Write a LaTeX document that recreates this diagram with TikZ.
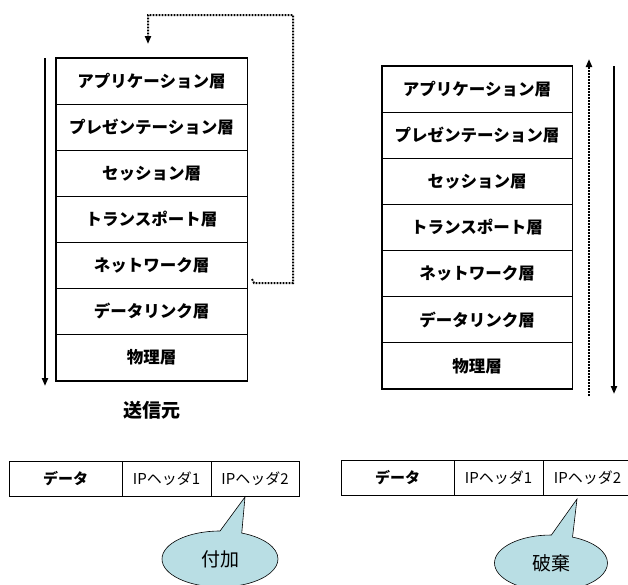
\documentclass[tikz,border=0pt]{standalone}
\usepackage{fontspec}
\newfontfamily\jp{Noto Sans CJK JP}
\usetikzlibrary{arrows.meta,shapes.callouts,calc}
\definecolor{bubble}{RGB}{185,222,228}
\begin{document}
\begin{tikzpicture}[x=1pt,y=-1pt,
  layer/.style={draw, line width=0.8pt, minimum width=191pt, minimum height=46.1pt, inner sep=0pt, font=\jp\bfseries\fontsize{16.5}{18}\selectfont},
  rlayer/.style={layer, minimum width=190pt, minimum height=46.15pt},
  cell/.style={draw, line width=0.8pt, minimum height=35pt, inner sep=0pt, font=\jp\fontsize{15}{16}\selectfont},
  frame/.style={line width=1.8pt},
  solidarrow/.style={line width=2pt, -{Triangle[length=8pt,width=6pt]}},
  dotarrow/.style={line width=2pt, dash pattern=on 1.8pt off 1.2pt, -{Triangle[length=8pt,width=6pt]}},
  bubblebox/.style={ellipse callout, draw, line width=0.6pt, fill=bubble, minimum width=116pt, minimum height=56pt, inner sep=0pt, callout pointer arc=22, font=\jp\fontsize{19}{21}\selectfont}
]
\useasboundingbox (0,0) rectangle (628,584);
% left stack
\node[layer] (L1) at (151.5,81)    {アプリケーション層};
\node[layer] (L2) at (151.5,127.1) {プレゼンテーション層};
\node[layer] (L3) at (151.5,173.2) {セッション層};
\node[layer] (L4) at (151.5,219.3) {トランスポート層};
\node[layer] (L5) at (151.5,265.4) {ネットワーク層};
\node[layer] (L6) at (151.5,311.5) {データリンク層};
\node[layer] (L7) at (151.5,357.6) {物理層};
\draw[frame] (L1.north west) rectangle (L7.south east);
\node[font=\jp\bfseries\fontsize{19}{21}\selectfont] (src) at (151.5,410) {送信元};
% right stack
\node[rlayer] (R1) at (477,89)     {アプリケーション層};
\node[rlayer] (R2) at (477,135.15) {プレゼンテーション層};
\node[rlayer] (R3) at (477,181.3)  {セッション層};
\node[rlayer] (R4) at (477,227.45) {トランスポート層};
\node[rlayer] (R5) at (477,273.6)  {ネットワーク層};
\node[rlayer] (R6) at (477,319.75) {データリンク層};
\node[rlayer] (R7) at (477,365.9)  {物理層};
\draw[frame] (R1.north west) rectangle (R7.south east);
% arrows
\coordinate (la1) at (45,58);
\coordinate (la2) at (45,386);
\draw[solidarrow] (la1) -- (la2);
\coordinate (dp0) at (252,279);
\coordinate (dp1) at (254,283);
\coordinate (dp2) at (293,15);
\coordinate (dp3) at (148,44);
\draw[dotarrow] (dp0) -- (dp1) -| (dp2) -| (dp3);
\coordinate (ra1) at (589,396);
\coordinate (ra2) at (589,59);
\draw[dotarrow] (ra1) -- (ra2);
\coordinate (rb1) at (614,66);
\coordinate (rb2) at (614,394);
\draw[solidarrow] (rb1) -- (rb2);
% packets
\node[cell, minimum width=113pt] (P1) at (65.5,478.5)  {\bfseries データ};
\node[cell, minimum width=89pt]  (P2) at (166.5,478.5) {IPヘッダ1};
\node[cell, minimum width=88pt]  (P3) at (255,478.5)   {IPヘッダ2};
\node[cell, minimum width=113pt] (Q1) at (397.5,478)   {\bfseries データ};
\node[cell, minimum width=89pt]  (Q2) at (498.5,478)   {IPヘッダ1};
\node[cell, minimum width=89pt]  (Q3) at (587.5,478)   {IPヘッダ2};
% callouts
\coordinate (tipL) at (245,497);
\coordinate (tipR) at (577,499);
\node[bubblebox, callout absolute pointer={(tipL)}] (B1) at (220,559) {付加};
\node[bubblebox, callout absolute pointer={(tipR)}, minimum width=113pt] (B2) at (551,563) {破棄};
\end{tikzpicture}
\end{document}
